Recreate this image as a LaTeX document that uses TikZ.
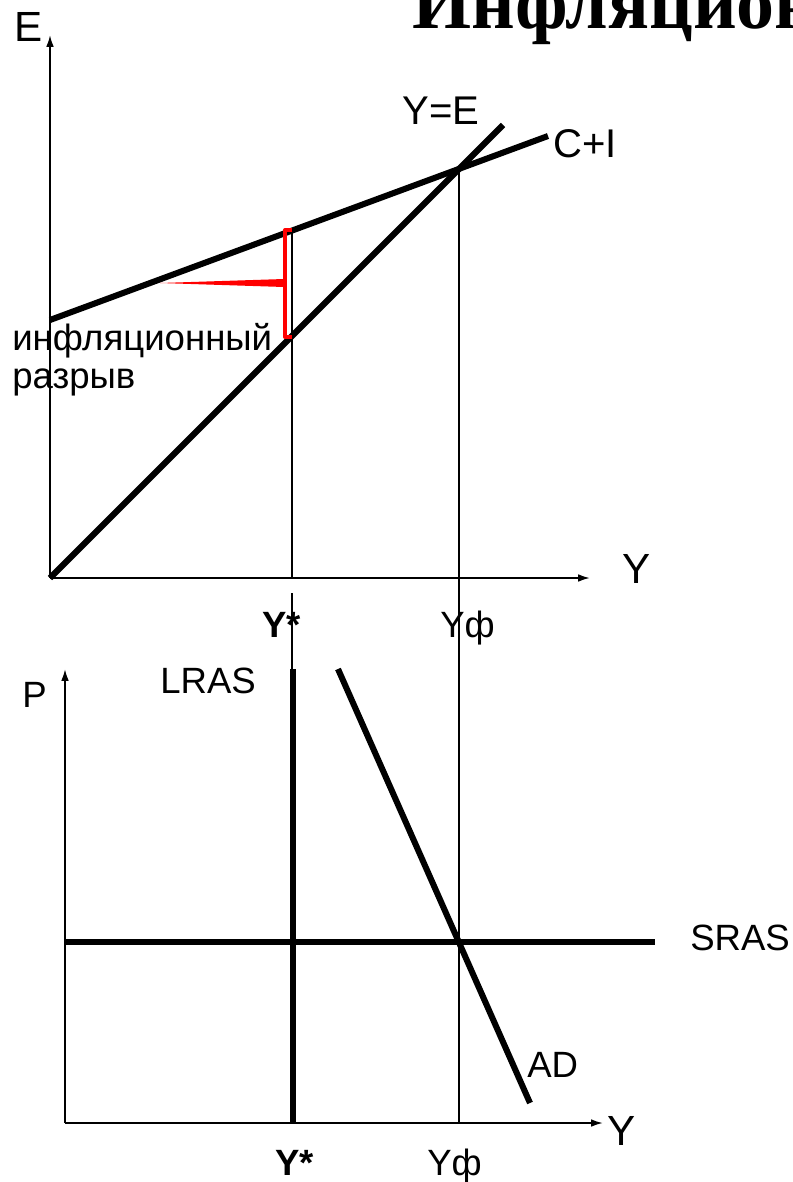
\documentclass[tikz,border=0pt]{standalone}
\usepackage{fontspec}
\setmainfont{Liberation Sans}
\newfontfamily\titlefont{Liberation Serif}
\usetikzlibrary{
  arrows.meta,%
  positioning
}
\tikzset{>={Latex[length=8.5pt,width=5.5pt]}}
\tikzset{font=\fontsize{26}{27}\selectfont}
\tikzset{lbl/.style={inner sep=0pt, anchor=base west},
  big/.style={font=\fontsize{30}{30}\selectfont},
  mid/.style={font=\fontsize{28.5}{29}\selectfont},
  bold/.style={font=\fontsize{26}{27}\selectfont\bfseries},
  curve/.style={line width=4.3pt},
  guide/.style={line width=1pt},
  axis/.style={->, line width=1.3pt}}

\begin{document}
\begin{tikzpicture}[x=0.025cm, y=-0.025cm]
  \useasboundingbox (0,0) rectangle (792,1182);
  \clip (0,0) rectangle (792,1182);
  \node[lbl, font=\titlefont\bfseries\fontsize{54}{54}\selectfont] (title) at (412,29) {Инфляционный разрыв};
  % upper chart
  \coordinate (O1) at (50,578);
  \coordinate (Etip) at (50,35);
  \coordinate (Ytip1) at (590,578);
  \coordinate (YEend) at (503,125);
  \coordinate (CIstart) at (50,320);
  \coordinate (CIend) at (548,136);
  \coordinate (Ys1) at (292,231);
  \coordinate (Ys1b) at (292,578);
  \coordinate (Yf1) at (459,169);
  \draw[guide] (Ys1) -- (Ys1b);
  \draw[guide] (Yf1) -- (459,1123);
  \draw[axis] (O1) -- (Etip);
  \draw[axis] (O1) -- (Ytip1);
  \draw[curve] (O1) -- (YEend);
  \draw[curve] (CIstart) -- (CIend);
  % gap bracket
  \fill[red] (160,283) -- (284,279) -- (284,287) -- cycle;
  \draw[red, line width=2.8pt, line join=round] (292,230) -- (285,230) -- (285,337) -- (292,337);
  \node[lbl, big] (E) at (14,42) {E};
  \node[lbl, mid] (YE) at (402,125) {Y=E};
  \node[lbl, mid] (CI) at (553,158) {C+I};
  \node[lbl, big] (Y1) at (622,583) {Y};
  \node[lbl, bold] (Ystar1) at (262,637) {Y*};
  \node[lbl] (Yf1lbl) at (440,637) {Yф};
  \node[lbl, align=left] (gap) at (12,388) {инфляционный\\разрыв};
  % lower chart
  \coordinate (O2) at (65,1123);
  \coordinate (Ptip) at (65,669);
  \coordinate (Ytip2) at (603,1123);
  \draw[guide] (292,593) -- (292,1123);
  \draw[axis] (O2) -- (Ptip);
  \draw[axis] (O2) -- (Ytip2);
  \draw[curve] (293,669) -- (293,1123);
  \draw[curve] (65,942) -- (655,942);
  \draw[curve] (338,669) -- (530,1103);
  \node[lbl] (P) at (22,707) {P};
  \node[lbl] (LRAS) at (160,693) {LRAS};
  \node[lbl] (SRAS) at (690,950) {SRAS};
  \node[lbl] (AD) at (527,1077) {AD};
  \node[lbl, big] (Y2) at (607,1145) {Y};
  \node[lbl, bold] (Ystar2) at (275,1175) {Y*};
  \node[lbl] (Yf2lbl) at (427,1175) {Yф};
\end{tikzpicture}
\end{document}
